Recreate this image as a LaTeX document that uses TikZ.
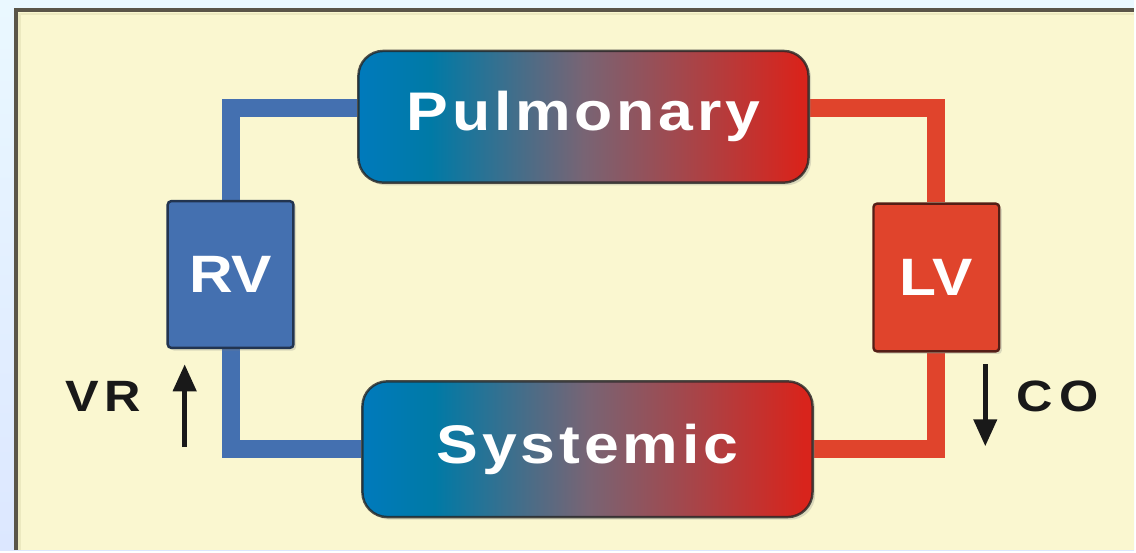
\documentclass[tikz,border=0pt]{standalone}
\usepackage{fontspec}
\usepackage{xcolor}
\setmainfont{Liberation Sans}
\newfontfamily\organfont{Liberation Sans}[FakeStretch=1.15,LetterSpace=7]
\newfontfamily\plainfont{Liberation Sans}[FakeStretch=1.15]
\newfontfamily\labelfont{Liberation Sans}[FakeStretch=1.15,LetterSpace=14]
\usetikzlibrary{arrows.meta, positioning, shadows, backgrounds}

\definecolor{rvblue}{RGB}{68,112,176}
\definecolor{rvedge}{RGB}{34,52,80}
\definecolor{lvred}{RGB}{224,68,44}
\definecolor{lvedge}{RGB}{84,30,22}
\definecolor{pulblue}{RGB}{0,122,188}
\definecolor{pulteal}{RGB}{0,122,166}
\definecolor{pulmid}{RGB}{120,100,116}
\definecolor{pulred}{RGB}{216,36,28}
\definecolor{framefill}{RGB}{250,247,208}
\definecolor{frameedge}{RGB}{90,85,72}
\definecolor{frameinner}{RGB}{236,233,192}
\definecolor{skytop}{RGB}{234,248,255}
\definecolor{skybottom}{RGB}{220,231,255}

\pgfdeclarehorizontalshading{bloodflow}{100bp}{color(0bp)=(pulblue); color(25bp)=(pulblue); color(33bp)=(pulteal); color(50bp)=(pulmid); color(74bp)=(pulred); color(100bp)=(pulred)}

\begin{document}
\begin{tikzpicture}[x=0.02cm,y=-0.02cm,
    organ/.style={rounded corners=0.5cm, shading=bloodflow, draw=black!85, draw opacity=0.8,
        line width=1.4pt, minimum width=9.02cm, inner sep=0pt, text=white,
        font=\organfont\bfseries\fontsize{31}{36}\selectfont,
        drop shadow={shadow xshift=1.5pt, shadow yshift=-1.5pt, opacity=0.25}},
    ventricle/.style={rounded corners=2pt, line width=1.4pt, minimum width=2.52cm,
        minimum height=2.94cm, inner sep=0pt, text=white,
        font=\plainfont\bfseries\fontsize{30}{36}\selectfont,
        drop shadow={shadow xshift=1.5pt, shadow yshift=-1.5pt, opacity=0.25}},
    vessel/.style={line width=0.36cm},
    flowarrow/.style={-{Triangle[length=0.54cm,width=0.46cm]}, line width=2.6pt, black!90},
    flowlabel/.style={text=black!90, font=\labelfont\bfseries\fontsize{25}{30}\selectfont}]

    % Circulation boxes
    \node[organ, minimum height=2.64cm] (pul) at (584.5,117) {Pulmonary};
    \node[organ, minimum height=2.72cm] (sys) at (588.5,450) {Systemic};

    % Ventricles
    \node[ventricle, fill=rvblue, draw=rvedge] (rv) at (231,275) {RV};
    \node[ventricle, fill=lvred, draw=lvedge, minimum height=2.96cm] (lv) at (938,278) {LV};

    % Venous return and cardiac output
    \node[flowlabel] (vr) at (103.5,397) {VR};
    \node[flowlabel] (co) at (1059.5,397) {CO};
    \coordinate (vrtail) at (185,448);
    \coordinate (vrhead) at (185,365);
    \coordinate (cotail) at (987,365);
    \coordinate (cohead) at (987,447);
    \draw[flowarrow] (vrtail) -- (vrhead);
    \draw[flowarrow] (cotail) -- (cohead);

    \begin{scope}[on background layer]
        % Backdrop and frame
        \shade[top color=skytop, bottom color=skybottom] (0,0) rectangle (1136,551);
        \fill[framefill] (16,10.5) rectangle (1136,551);
        \draw[frameinner, line width=0.05cm] (19.5,551) -- (19.5,14) -- (1136,14);
        \draw[frameedge, line width=0.08cm] (16,551) -- (16,10.5) -- (1136,10.5);

        % Vessels
        \draw[vessel, rvblue] (rv.north) |- ([yshift=0.18cm]pul.west);
        \draw[vessel, rvblue] (rv.south) |- (sys.west);
        \draw[vessel, lvred] ([yshift=0.18cm]pul.east) -| (lv.north);
        \draw[vessel, lvred] (lv.south) |- (sys.east);
    \end{scope}
\end{tikzpicture}
\end{document}
